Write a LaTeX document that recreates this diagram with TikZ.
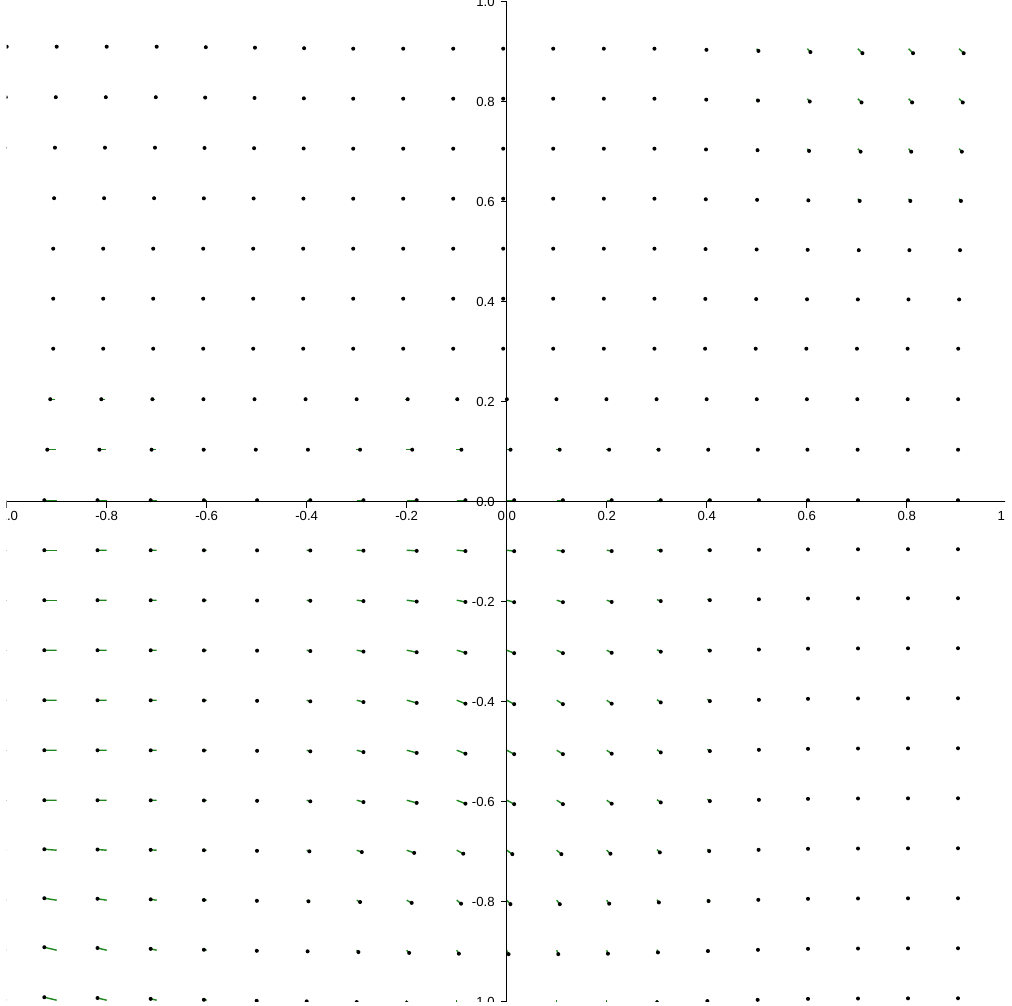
\documentclass[tikz,border=0pt]{standalone}
\usepackage{fontspec}
\setmainfont{Liberation Sans}
\definecolor{trailgreen}{RGB}{30,135,30}
\tikzstyle{axisline} = [line width=0.85pt, black]
\tikzstyle{tickline} = [line width=0.7pt, black]
\tikzstyle{trail} = [line width=0.8pt, trailgreen]
\tikzstyle{ticklabel} = [font=\fontsize{7.5}{8.5}\selectfont, inner sep=0pt]
\def\pxu{0.002}

\begin{document}
\begin{tikzpicture}[x=10cm, y=10cm]
  \useasboundingbox (-1.0134,-1.0066) rectangle (1.0106,1.0034);
  \begin{scope}
  \clip (-1,-1) rectangle (0.9966,1.0034);
  % field: green trail from base point to dot
  \foreach \i in {-10,...,9} {
    \foreach \j in {-10,...,9} {
      \pgfmathsetmacro\gx{\i/10}
      \pgfmathsetmacro\gy{\j/10}
      \pgfmathsetmacro\ylo{min(\gy,0)}
      \pgfmathsetmacro\wup{min(1,max(0,(\gy)/0.3))}
      \pgfmathsetmacro\tlo{min(10+32*((\gx)+0.2),max(0,10-12.5*((\gx)+0.2)))}
      \pgfmathsetmacro\hfade{min(1,max(0,(1+(\ylo))/0.4))}
      \pgfmathsetmacro\qq{((\gx)-0.05)/0.4}
      \pgfmathsetmacro\rr{min(1,max(0,((\gx)-0.2)/0.4))}
      \pgfmathsetmacro\txlo{min(\tlo,0)+max(\tlo,0)*(\hfade)}
      \pgfmathsetmacro\tylo{4*exp(-(\qq)*(\qq))*min(1,-(\ylo)/0.4)-3*min(1,max(0,(-(\ylo)-0.6)/0.3))*min(1,max(0,(-(\gx)-0.5)/0.4))}
      \pgfmathsetmacro\bxlo{1.3*(\rr)}
      \pgfmathsetmacro\bylo{-1.5-2*(\rr)*min(1,-(\ylo)/0.2)}
      \pgfmathsetmacro\rup{min(1,max(0,((\gx)-0.3)/0.4))*min(1,max(0,((\gy)-0.3)/0.6))}
      \pgfmathsetmacro\tlup{max(0,((\gy)-0.5)/0.4)*min(1,max(0,(-0.3-(\gx))/0.4))}
      \pgfmathsetmacro\tx{(1-(\wup))*(\txlo)+(\wup)*(-1+5.5*(\rup))}
      \pgfmathsetmacro\ty{(1-(\wup))*(\tylo)+(\wup)*4.5*(\rup)}
      \pgfmathsetmacro\bx{(1-(\wup))*(\bxlo)+(\wup)*(-2.5+5*max(0,(\gx)-0.1)/0.8+3.5*(\tlup))}
      \pgfmathsetmacro\by{(1-(\wup))*(\bylo)+(\wup)*(-3-2*(\tlup))}
      \draw[trail] ({(\gx)+(\bx)*\pxu},{(\gy)-(\by)*\pxu}) coordinate (base)
        -- ++({(\tx)*\pxu},{-(\ty)*\pxu}) coordinate (head);
      \fill (head) circle (0.4mm);
    }
  }
  % axes
  \draw[axisline] (-1,-0.012) -- (-1,0) -- (1,0) -- (1,-0.012);
  \draw[axisline] (-0.012,1) -- (0,1) -- (0,-1) -- (-0.012,-1);
  \foreach \v/\t in {-1/-1.0,-0.8/-0.8,-0.6/-0.6,-0.4/-0.4,-0.2/-0.2,0/0.0,0.2/0.2,0.4/0.4,0.6/0.6,0.8/0.8,1/1.0} {
    \draw[tickline] (\v,0) -- (\v,-0.012);
    \node (xl) [ticklabel] at (\v,-0.0276) {\t};
    \draw[tickline] (0,\v) -- (-0.012,\v);
    \node (yl) [ticklabel, anchor=east] at (-0.0234,\v) {\t};
  }
  \end{scope}
\end{tikzpicture}
\end{document}
